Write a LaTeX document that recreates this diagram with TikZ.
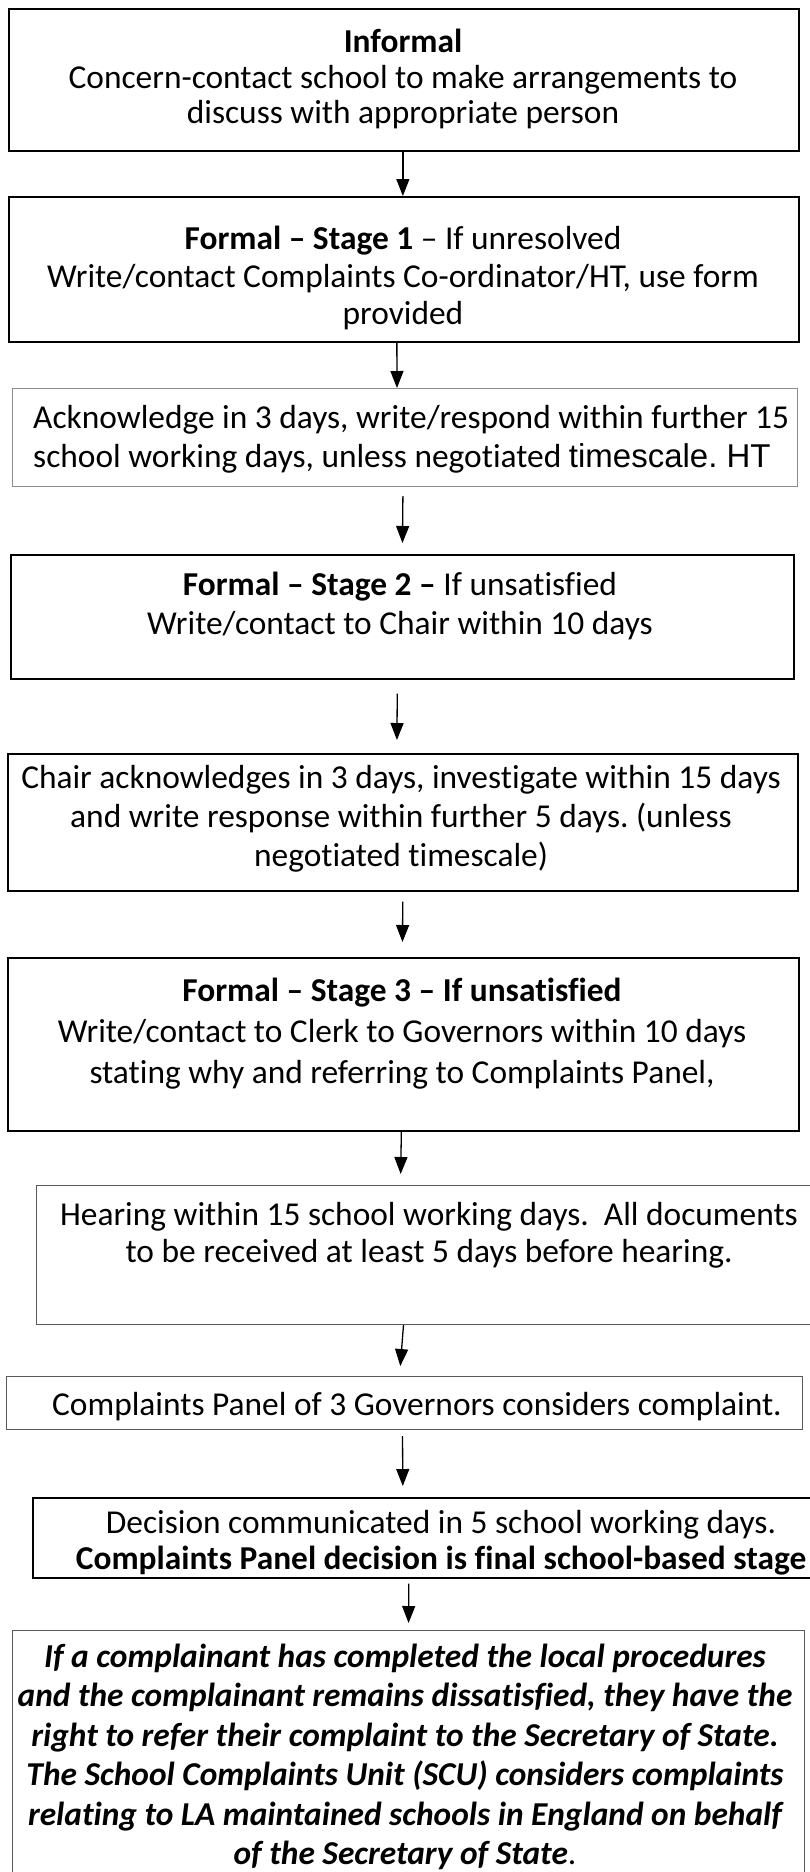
\documentclass[tikz,border=0pt]{standalone}
\usepackage{fontspec}
\setmainfont{Carlito}[Ligatures={TeX,NoCommon}]
\newfontfamily\arialfont{Liberation Sans}
\frenchspacing
\usepackage{tikz}
\usetikzlibrary{arrows.meta, calc, positioning}
\definecolor{framegray}{HTML}{595959}
\definecolor{lightframe}{HTML}{8C8C8C}

\begin{document}
\begin{tikzpicture}[x=1pt,y=-1pt,
    frame/.style={draw, line width=1.7pt, anchor=north west, inner sep=0pt},
    thinframe/.style={draw=framegray, line width=1pt, anchor=north west, inner sep=0pt},
    txt/.style={align=center, inner sep=0pt, font=\fontsize{33.4}{39}\selectfont},
    arr/.style={-{Triangle[length=17pt,width=13pt]}, line width=1.3pt}]
    \useasboundingbox (0,0) rectangle (809,1872);
    % boxes
    \node[frame, minimum width=790pt, minimum height=142pt] (inf) at (8,8) {};
    \node[frame, minimum width=790pt, minimum height=145pt] (st1) at (8,196) {};
    \node[thinframe, draw=lightframe, minimum width=785pt, minimum height=98pt] (ack) at (12,388) {};
    \node[frame, minimum width=783pt, minimum height=124pt] (st2) at (10,554) {};
    \node[frame, minimum width=790pt, minimum height=137pt] (chr) at (7,753) {};
    \node[frame, minimum width=791pt, minimum height=173pt] (st3) at (7,957) {};
    \node[thinframe, minimum width=786pt, minimum height=139pt] (hear) at (36,1185) {};
    \node[thinframe, minimum width=796pt, minimum height=53pt] (pan) at (6,1376) {};
    \node[frame, minimum width=790pt, minimum height=80pt] (dec) at (32,1497) {};
    \node[thinframe, minimum width=792pt, minimum height=260pt] (sos) at (12,1630) {};
    % texts
    \node[txt, font=\fontsize{33.4}{35.5}\selectfont] (infT) at (403,79) {\textbf{Informal}\\Concern-contact school to make arrangements to\\discuss with appropriate person};
    \node[txt, font=\fontsize{33.4}{37.5}\selectfont] (st1T) at (403,278) {\textbf{Formal -- Stage 1} -- If unresolved\\Write/contact Complaints Co-ordinator/HT, use form\\provided};
    \node[txt, align=left, anchor=west] (ackT) at (33,439) {Acknowledge in 3 days, write/respond within further 15\\school working days, unless negotiated {\arialfont\fontsize{33}{39}\selectfont timescale. HT}};
    \node[txt] (st2T) at (400,606) {\textbf{Formal -- Stage 2 --} If unsatisfied\\Write/contact to Chair within 10 days};
    \node[txt] (chrT) at (401,819) {Chair acknowledges in 3 days, investigate within 15 days\\and write response within further 5 days. (unless\\negotiated timescale)};
    \node[txt, font=\fontsize{33.4}{41}\selectfont] (st3T) at (402,1034) {\textbf{Formal -- Stage 3 -- If unsatisfied}\\Write/contact to Clerk to Governors within 10 days\\stating why and referring to Complaints Panel,};
    \node[txt, font=\fontsize{33.4}{37}\selectfont] (hearT) at (429,1235) {Hearing within 15 school working days.\ \ All documents\\to be received at least 5 days before hearing.};
    \node[txt] (panT) at (417,1407) {Complaints Panel of 3 Governors considers complaint.};
    \node[txt, font=\fontsize{33.4}{36}\selectfont] (decT) at (441,1543) {Decision communicated in 5 school working days.\\\textbf{Complaints Panel decision is final school-based stage}};
    \node[txt, font=\fontsize{33.4}{39.5}\selectfont] (sosT) at (405,1757) {\bfseries\itshape If a complainant has completed the local procedures\\\bfseries\itshape and the complainant remains dissatisfied, they have the\\\bfseries\itshape right to refer their complaint to the Secretary of State.\\\bfseries\itshape The School Complaints Unit (SCU) considers complaints\\\bfseries\itshape relating to LA maintained schools in England on behalf\\\textbf{\textit{of the Secretary of State}}.};
    % arrows
    \draw[arr] ($(inf.south)+(-1,0)$) -- ($(st1.north)+(-1,0)$);
    \draw[arr] ($(st1.south)+(-7,0)$) -- ($(ack.north)+(-8,0)$);
    \draw[arr, shorten <=9pt, shorten >=11pt] ($(ack.south)+(-2,0)$) -- ($(st2.north)+(0,0)$);
    \draw[arr, shorten <=14pt, shorten >=13pt] ($(st2.south)+(-5,0)$) -- ($(chr.north)+(-6,0)$);
    \draw[arr, shorten <=10pt, shorten >=15pt] ($(chr.south)+(0,0)$) -- ($(st3.north)+(-1,0)$);
    \draw[arr, shorten >=11pt] ($(st3.south)+(-2,0)$) -- ($(hear.north)+(-29,0)$);
    \draw[arr, shorten >=10pt] ($(hear.south)+(-26,0)$) -- ($(pan.north)+(-5,0)$);
    \draw[arr, shorten <=6pt, shorten >=11pt] ($(pan.south)+(-2,0)$) -- ($(dec.north)+(-25,0)$);
    \draw[arr, shorten <=5pt, shorten >=7pt] ($(dec.south)+(-19,0)$) -- ($(sos.north)+(0,0)$);
\end{tikzpicture}
\end{document}
